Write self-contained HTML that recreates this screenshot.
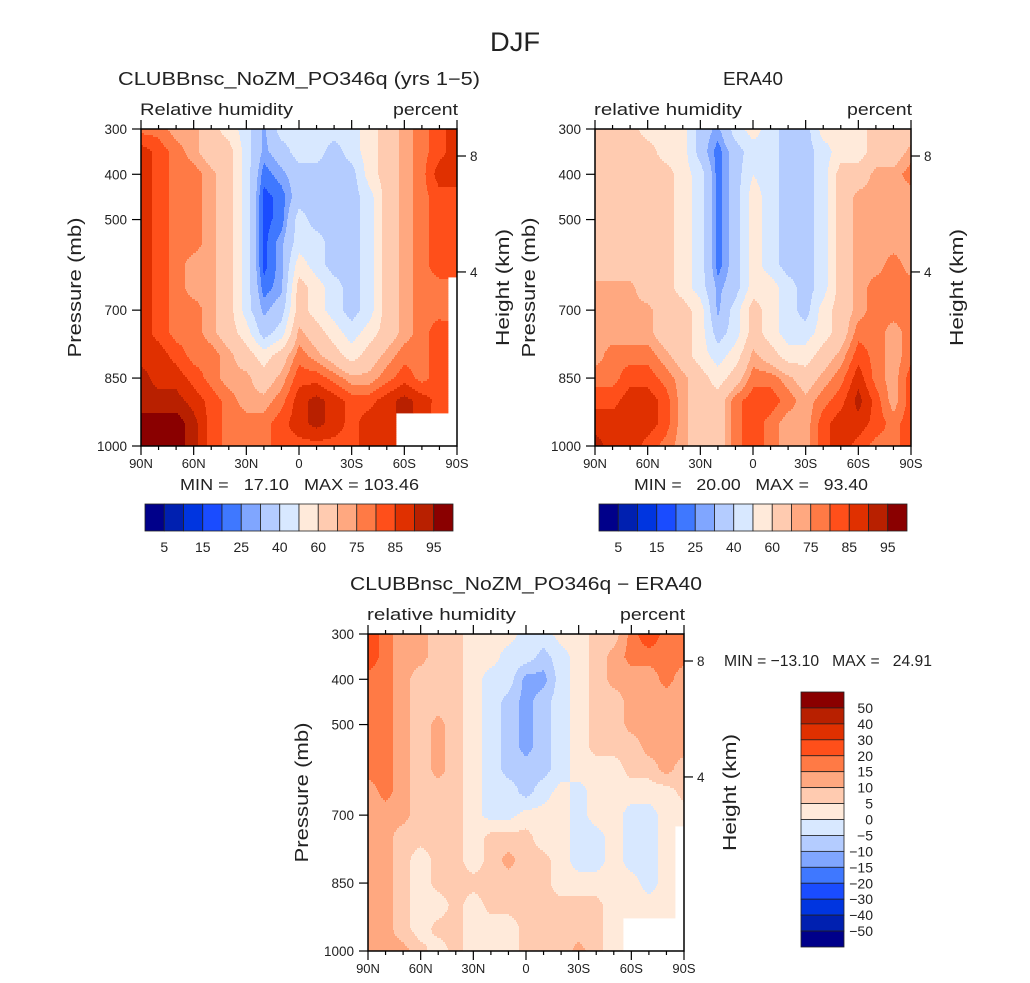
<!DOCTYPE html>
<html><head><meta charset="utf-8">
<style>
body{margin:0;background:#fff;}
svg{display:block;font-family:"Liberation Sans",sans-serif;}
text{white-space:pre;}
</style></head>
<body>
<svg id="chart" width="1030" height="983" viewBox="0 0 1030 983" xmlns="http://www.w3.org/2000/svg">
<text x="515" y="51" font-size="27" text-anchor="middle" fill="#222" textLength="50" lengthAdjust="spacingAndGlyphs">DJF</text>
<g id="layer"></g>
</svg>
<script>
// ---- data ----
const lats = [90,80,70,60,50,40,30,20,10,0,-10,-20,-30,-40,-50,-60,-70,-80,-90];
const pressures = [300,350,400,450,500,550,600,650,700,750,800,850,900,950,1000];
const rhLevels = [5,10,15,20,25,30,40,50,60,70,75,80,85,90,95];
const diffLevels = [-50,-40,-30,-20,-15,-10,-5,0,5,10,15,20,30,40,50];
const palette = ["#00008a","#0020b0","#0035e0","#1a4cff","#3f78ff","#80a6ff","#b4ccff","#d8e8ff","#ffeada","#ffcbb0","#ffa880","#ff7a45","#ff4f1a","#e03000","#b82000","#8a0000"];
const rhTickLabels = ["5","15","25","40","60","75","85","95"];
const diffTickLabels = ["50","40","30","20","15","10","5","0","\u22125","\u221210","\u221215","\u221220","\u221230","\u221240","\u221250"];
const xTickLabels = ["90N","60N","30N","0","30S","60S","90S"];
const xTickLats = [90,60,30,0,-30,-60,-90];
const pTickLabels = [300,400,500,700,850,1000];
const hTickKm = [8,4];
const N = null;
const modelRH = [
[78,78,72,72,65,55,45,28,45,45,45,45,45,55,65,72,78,83,88],
[88,83,78,72,65,65,45,28,35,45,45,35,45,55,65,72,78,83,88],
[88,83,78,78,72,65,45,22,28,35,35,35,35,55,65,72,78,88,88],
[88,83,78,78,72,65,45,18,22,35,35,35,35,45,65,72,78,83,83],
[88,83,78,78,72,65,45,18,22,45,35,35,35,45,65,72,78,83,83],
[88,83,78,78,72,65,45,18,28,45,45,35,35,45,65,72,78,83,83],
[88,83,78,72,72,65,45,18,28,55,45,35,35,45,65,72,78,83,83],
[88,83,78,72,72,65,45,22,28,65,55,45,35,45,65,72,78,78,N],
[88,83,78,78,72,65,45,28,35,65,55,45,35,45,65,72,78,78,N],
[88,83,78,78,72,65,55,35,45,72,65,55,45,55,65,72,78,83,N],
[88,88,83,78,78,72,65,55,65,78,72,65,55,65,72,78,78,83,N],
[92,88,88,83,78,72,72,65,72,83,83,78,72,72,78,83,78,83,N],
[92,92,92,88,83,78,72,72,78,88,92,88,83,83,88,92,88,83,N],
[98,98,98,92,83,78,78,78,83,88,92,88,83,88,88,N,N,N,N],
[98,98,98,92,83,78,78,78,83,83,83,83,83,88,88,N,N,N,N]];
const eraRH = [
[65,65,65,55,55,55,35,28,45,55,45,35,35,55,55,55,65,65,65],
[65,65,65,65,55,55,35,22,35,45,45,35,35,45,55,55,65,65,72],
[65,65,65,65,65,55,45,22,35,50,45,35,35,45,65,65,72,72,78],
[65,65,65,65,65,55,45,22,35,55,45,35,35,45,65,72,72,72,72],
[65,65,65,65,65,55,45,22,35,55,45,35,35,45,65,72,72,72,72],
[65,65,65,65,65,55,45,22,35,55,45,35,35,45,65,72,72,72,72],
[65,65,65,65,65,55,45,22,35,55,45,35,35,45,65,72,72,78,72],
[72,72,72,65,65,55,45,28,35,55,55,45,35,45,65,72,78,78,78],
[72,72,72,72,65,65,55,28,45,65,55,45,35,55,65,72,78,78,78],
[72,72,72,72,65,65,55,35,45,65,55,45,45,55,65,78,78,72,78],
[72,78,78,78,72,65,55,45,55,72,65,55,55,65,72,83,78,72,78],
[78,78,83,83,78,72,65,55,65,78,78,72,65,72,78,88,78,72,83],
[83,83,88,88,83,72,65,65,78,83,83,78,72,78,83,92,83,72,83],
[88,88,88,88,83,72,65,65,78,83,78,72,72,83,88,88,83,78,83],
[92,88,88,83,78,72,65,65,78,83,78,72,72,83,88,83,78,78,83]];
const diffRH = [
[25,17,12,12,7,7,2,2,2,-2,-2,2,2,7,7,17,25,17,17],
[25,17,12,12,7,7,2,2,-2,-2,-7,-2,2,7,12,17,17,17,17],
[17,17,12,7,7,7,2,-2,-2,-12,-12,-2,2,7,12,12,12,17,12],
[17,17,12,7,7,7,2,-2,-7,-12,-7,-2,2,7,7,12,12,12,12],
[17,17,12,7,12,7,2,-2,-7,-12,-7,-2,2,7,7,12,12,12,12],
[17,17,12,7,12,7,2,-2,-7,-12,-7,-2,2,7,7,7,12,12,12],
[17,17,12,7,12,7,2,-2,-7,-7,-7,-2,2,2,2,7,7,12,7],
[12,17,12,7,7,7,2,-2,-2,-7,-2,2,-2,2,2,2,2,2,7],
[12,12,12,7,7,7,2,-2,-2,2,2,2,-2,2,2,-2,-2,2,2],
[12,12,7,7,7,7,2,7,7,7,2,2,-2,-2,2,-2,-2,2,N],
[12,12,7,2,7,7,2,7,12,7,7,2,-2,-2,2,-2,-2,2,N],
[12,12,7,2,7,7,7,7,7,7,7,2,2,2,2,2,-2,2,N],
[12,12,7,2,2,7,2,7,7,7,7,7,7,7,2,2,2,2,N],
[12,12,7,2,7,7,2,2,2,7,7,7,7,7,2,N,N,N,N],
[12,12,12,7,2,7,2,2,2,7,7,7,12,7,2,N,N,N,N]];

// ---- helpers ----
const NS="http://www.w3.org/2000/svg";
const layer=document.getElementById('layer');
function mk(tag,attrs,parent){const e=document.createElementNS(NS,tag);for(const k in attrs)e.setAttribute(k,attrs[k]);(parent||layer).appendChild(e);return e;}
function colorFor(v,levels){let i=0;while(i<levels.length&&v>=levels[i])i++;return palette[i];}
function sample(grid,lat,p){
  const fx=(90-lat)/10, fy=(p-300)/50;
  const i0=Math.min(17,Math.max(0,Math.floor(fx))), j0=Math.min(13,Math.max(0,Math.floor(fy)));
  const tx=fx-i0, ty=fy-j0;
  const ni=Math.round(fx), nj=Math.round(fy);
  const near=grid[nj][ni];
  if(near===null)return null;
  const g=(j,i)=>{const v=grid[j][i];return v===null?near:v;};
  return g(j0,i0)*(1-tx)*(1-ty)+g(j0,i0+1)*tx*(1-ty)+g(j0+1,i0)*(1-tx)*ty+g(j0+1,i0+1)*tx*ty;
}
function fitText(e,len){e.setAttribute('textLength',len);e.setAttribute('lengthAdjust','spacingAndGlyphs');}

function panel(cfg){
  const {x0,y0,w,h,grid,levels,name}=cfg;
  const xs=lat=>x0+(90-lat)/180*w;
  const ys=p=>y0+(p-300)/700*h;
  const g=mk('g',{});
  
  
  const cells=mk('g',{},g);
  
  
  const step=2;
  for(let py=0;py<h;py+=step){
    const p=300+(py+step/2)/h*700;
    let runStart=0,runCol=undefined;
    for(let px=0;px<=w;px++){
      let col=null;
      if(px<w){const lat=90-(px+0.5)/w*180;const v=sample(grid,lat,p);col=v===null?'#fff':colorFor(v,levels);}
      if(px===w||col!==runCol){
        if(runCol!==undefined&&runCol!=='#fff'){
          const r=mk('rect',{x:x0+runStart,y:y0+py,width:px-runStart+0.4,height:Math.min(step,h-py)+0.4,fill:runCol},cells);
          
          
        }
        runStart=px;runCol=col;
      }
    }
  }
  const frame=mk('rect',{x:x0,y:y0,width:w,height:h,fill:'none',stroke:'#000','stroke-width':1.5},g);
  
  
  for(let lat=90;lat>=-90;lat-=10){
    const major=lat%30===0, x=xs(lat), L=major?9:4;
    mk('line',{x1:x,x2:x,y1:y0+h,y2:y0+h+L,stroke:'#000','stroke-width':1.2},g);
    mk('line',{x1:x,x2:x,y1:y0,y2:y0-L,stroke:'#000','stroke-width':1.2},g);
  }
  xTickLabels.forEach((t,i)=>{
    const e=mk('text',{x:xs(xTickLats[i]),y:y0+h+22,'font-size':13,'text-anchor':'middle',fill:'#222'},g);e.textContent=t;
    
    
  });
  pTickLabels.forEach(p=>{
    const y=ys(p);
    mk('line',{x1:x0-9,x2:x0,y1:y,y2:y,stroke:'#000','stroke-width':1.2},g);
    const e=mk('text',{x:x0-14,y:y+5,'font-size':13.5,'text-anchor':'end',fill:'#222'},g);e.textContent=p;
    
    
  });
  hTickKm.forEach(km=>{
    const p=1054*Math.exp(-km/7.44); const y=ys(p);
    mk('line',{x1:x0+w,x2:x0+w+9,y1:y,y2:y,stroke:'#000','stroke-width':1.2},g);
    const e=mk('text',{x:x0+w+13,y:y+5,'font-size':13.5,fill:'#222'},g);e.textContent=km;
    
    
  });
  const yl=mk('text',{x:0,y:0,'font-size':18,'text-anchor':'middle',fill:'#222',transform:`translate(${x0-60},${y0+h/2}) rotate(-90)`},g);yl.textContent='Pressure (mb)';
  fitText(yl,140);
  
  
  const yr=mk('text',{x:0,y:0,'font-size':18,'text-anchor':'middle',fill:'#222',transform:`translate(${x0+w+52},${y0+h/2}) rotate(-90)`},g);yr.textContent='Height (km)';
  fitText(yr,117);
  
  
  const t=mk('text',{x:cfg.titleX,y:y0-44,'font-size':18,'text-anchor':'middle',fill:'#222'},g);t.textContent=cfg.title;
  fitText(t,cfg.titleLen);
  
  
  const l=mk('text',{x:x0-1,y:y0-14,'font-size':17,fill:'#222'},g);l.textContent=cfg.left;
  fitText(l,cfg.leftLen);
  
  
  const r=mk('text',{x:x0+w+1,y:y0-14,'font-size':17,'text-anchor':'end',fill:'#222'},g);r.textContent='percent';
  fitText(r,65);
  
  
}

function hbar(x0,y0,name){
  const g=mk('g',{});
  
  
  const bw=308/16;
  palette.forEach((c,i)=>{
    const r=mk('rect',{x:x0+i*bw,y:y0,width:bw,height:27,fill:c,stroke:'#222','stroke-width':0.8},g);
    
    
  });
  rhTickLabels.forEach((t,k)=>{
    const e=mk('text',{x:x0+(2*k+1)*bw,y:y0+48,'font-size':14,'text-anchor':'middle',fill:'#222'},g);e.textContent=t;
    
    
  });
}

panel({x0:141,y0:129,w:316,h:317,grid:modelRH,levels:rhLevels,name:'model',title:'CLUBBnsc_NoZM_PO346q (yrs 1\u22125)',titleX:299,titleLen:362,left:'Relative humidity',leftLen:153});
panel({x0:595,y0:129,w:316,h:317,grid:eraRH,levels:rhLevels,name:'era40',title:'ERA40',titleX:753,titleLen:60,left:'relative humidity',leftLen:148});
panel({x0:368,y0:634,w:316,h:317,grid:diffRH,levels:diffLevels,name:'difference',title:'CLUBBnsc_NoZM_PO346q \u2212 ERA40',titleX:526,titleLen:352,left:'relative humidity',leftLen:149});

function txt(x,y,s,size,len,name){const e=mk('text',{x:x,y:y,'font-size':size,fill:'#222'});e.textContent=s;
  fitText(e,len);
  
  }
txt(180,490,'MIN =   17.10   MAX = 103.46',16,239,'model-min-max');
txt(634,490,'MIN =   20.00   MAX =   93.40',16,234,'era40-min-max');
txt(724,666,'MIN = \u221213.10   MAX =   24.91',16,208,'difference-min-max');

hbar(145,504,'model-colorbar');
hbar(599,504,'era40-colorbar');

(function(){
  const g=mk('g',{});
  
  
  const x0=801,y0=692,bh=255/16;
  palette.slice().reverse().forEach((c,i)=>{
    const r=mk('rect',{x:x0,y:y0+i*bh,width:43,height:bh,fill:c,stroke:'#222','stroke-width':0.8},g);
    
    
  });
  diffTickLabels.forEach((t,i)=>{
    const e=mk('text',{x:873,y:y0+(i+1)*bh+5,'font-size':14,'text-anchor':'end',fill:'#222'},g);e.textContent=t;
    
    
  });
})();
</script>
</body></html>
